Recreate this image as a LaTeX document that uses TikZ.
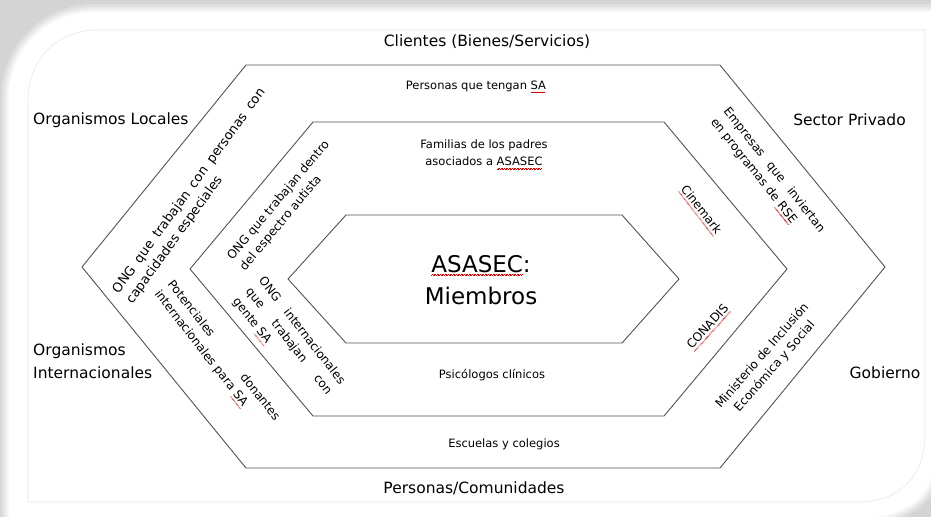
\documentclass[tikz,border=0pt]{standalone}
\usepackage{fontspec}
\setmainfont{DejaVu Sans}
\newcommand\spell[1]{\setbox0\hbox{#1}\rlap{\textcolor{red!85!black}{\hbox to \wd0{\leaders\hbox{\rule[-3.3pt]{0.8pt}{0.45pt}\rule[-2.7pt]{0.8pt}{0.45pt}}\hfill}}}#1}
\begin{document}
\begin{tikzpicture}[x=1pt,y=-1pt,
  hexline/.style={draw=black!68,line width=0.9pt,line join=miter},
  outerlbl/.style={font=\fontsize{15.5}{23}\selectfont,inner sep=0pt},
  small/.style={font=\fontsize{11.5}{17}\selectfont,inner sep=0pt,align=center},
  rot/.style={font=\fontsize{12}{16.5}\selectfont,inner sep=0pt}]
\useasboundingbox (0,0) rectangle (931,517);
% frame
\def\sheetpath{(9,530) -- (9,97) .. controls (9,50) and (47,12) .. (94,12) -- (945,12) -- (945,472) -- (931,472) .. controls (931,497) and (900,517) .. (870,517) -- (870,530) -- cycle}
\fill[black!17] (0,0) rectangle (931,517);
\foreach \w/\o in {16/0.25,11/0.3,7/0.4,3.5/0.5} \draw[white,line width=\w pt,opacity=\o] \sheetpath;
\fill[white] \sheetpath;
\draw[black!9,line width=0.6pt] (28,502) -- (28,100) .. controls (28,60) and (57,30) .. (97,30) -- (925,30) -- (925,435) .. controls (925,475) and (900,502) .. (860,502) -- cycle;
% hexagons
\coordinate (o1) at (246,65); \coordinate (o2) at (720,65); \coordinate (o3) at (885,267);
\coordinate (o4) at (720,468); \coordinate (o5) at (246,468); \coordinate (o6) at (82,267);
\coordinate (m1) at (313,122); \coordinate (m2) at (664,122); \coordinate (m3) at (787,269);
\coordinate (m4) at (664,416); \coordinate (m5) at (313,416); \coordinate (m6) at (190,269);
\coordinate (i1) at (346,215); \coordinate (i2) at (622,215); \coordinate (i3) at (679,279);
\coordinate (i4) at (622,343); \coordinate (i5) at (346,343); \coordinate (i6) at (288,279);
\draw[hexline] (o1) -- (o2) -- (o3) -- (o4) -- (o5) -- (o6) -- cycle;
\draw[hexline] (m1) -- (m2) -- (m3) -- (m4) -- (m5) -- (m6) -- cycle;
\draw[hexline] (i1) -- (i2) -- (i3) -- (i4) -- (i5) -- (i6) -- cycle;
% outer labels
\node[outerlbl] (clientes) at (487,42) {Clientes (Bienes/Servicios)};
\node[outerlbl] (comunidades) at (474,488) {Personas/Comunidades};
\node[outerlbl,anchor=west] (orgloc) at (33,120) {Organismos Locales};
\node[outerlbl] (sector) at (849.5,120) {Sector Privado};
\node[outerlbl,anchor=west,align=left] (orgint) at (33,361.5) {Organismos\\Internacionales};
\node[outerlbl] (gob) at (885,373) {Gobierno};
% horizontal inner labels
\node[small] (sa) at (476,87) {Personas que tengan \spell{SA}};
\node[small] (fam) at (484,154.5) {Familias de los padres\\asociados a \spell{ASASEC}};
\node[font=\fontsize{23}{32.5}\selectfont,align=center,inner sep=0pt] (asasec) at (481,280) {\spell{ASASEC}:\\Miembros};
\node[small] (psi) at (492,375) {Psicólogos clínicos};
\node[small] (esc) at (504,444) {Escuelas y colegios};
% rotated labels
\node[rot,font=\fontsize{13}{17}\selectfont,rotate=54,text width=250pt,align=left] (ongpc) at (196,196) {\makebox[250pt]{ONG\hfill que\hfill trabajan\hfill con\hfill personas\hfill con}\\capacidades especiales};
\node[rot,rotate=50,align=left] (onge) at (285,205.6) {ONG que trabajan dentro\\del espectro autista};
\node[rot,rotate=-52,text width=174pt,align=left] (pot) at (216.6,356) {\makebox[174pt]{Potenciales\hfill donantes}\\internacionales para \spell{SA}};
\node[rot,rotate=-52,text width=132pt,align=left] (ongi) at (288.3,341.3) {\makebox[132pt]{ONG\hfill internacionales}\\\makebox[132pt]{que\hfill trabajan\hfill con}\\gente \spell{SA}};
\node[rot,rotate=-51.5,text width=155pt,align=left] (emp) at (767.3,175.7) {\makebox[155pt]{Empresas\hfill que\hfill inviertan}\\en programas de \spell{RSE}};
\node[rot,rotate=-52] (cine) at (700.5,210.5) {\spell{Cinemark}};
\node[rot,rotate=48] (conadis) at (708.5,327.5) {\spell{CONADIS}};
\node[rot,rotate=49,align=center] (mies) at (768.5,361.2) {Ministerio de Inclusión\\Económica y Social};
\end{tikzpicture}
\end{document}
